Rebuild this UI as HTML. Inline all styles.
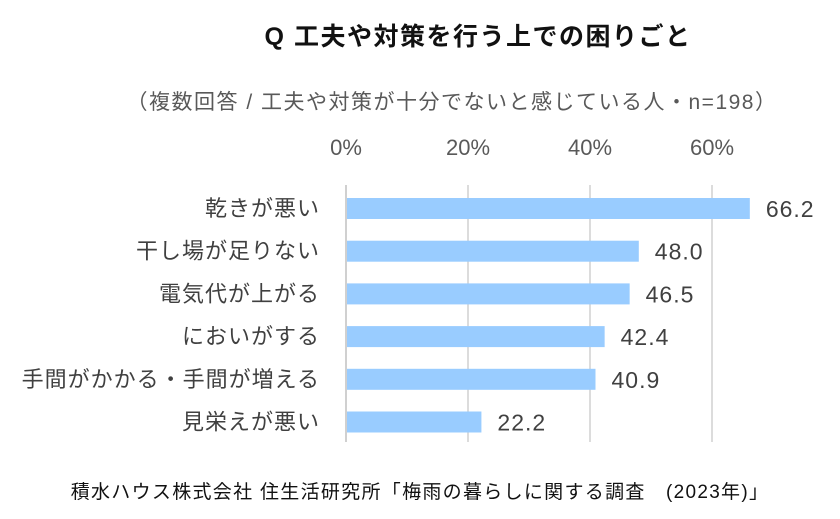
<!DOCTYPE html>
<html><head><meta charset="utf-8"><style>
body{margin:0;background:#fff;width:840px;height:514px;overflow:hidden;font-family:"Liberation Sans","Noto Sans CJK JP",sans-serif}
</style></head><body>
<svg width="840" height="514" style="font-family:'Liberation Sans','Noto Sans CJK JP',sans-serif">
<text x="478" y="45" text-anchor="middle" font-size="25" letter-spacing="1.5" font-weight="bold" fill="#111">Q  工夫や対策を行う上での困りごと</text>
<text x="452" y="109" text-anchor="middle" font-size="21" letter-spacing="1.5" fill="#595959">（複数回答 / 工夫や対策が十分でないと感じている人・n=198）</text>
<g id="grid"></g><g id="ticks"></g><g id="bars"></g>
<text x="420" y="498" text-anchor="middle" font-size="19" letter-spacing="1.3" fill="#111">積水ハウス株式会社 住生活研究所「梅雨の暮らしに関する調査　(2023年)」</text>
</svg>
<script>
const categories=["乾きが悪い","干し場が足りない","電気代が上がる","においがする","手間がかかる・手間が増える","見栄えが悪い"];
const values=[66.2,48.0,46.5,42.4,40.9,22.2];
const tickValues=[0,20,40,60];
const tickLabels=["0%","20%","40%","60%"];
const NS="http://www.w3.org/2000/svg";
const x=v=>346+v*6.1;
const yTop=i=>198+i*42.7;
function mk(t,a,p){const e=document.createElementNS(NS,t);for(const k in a)e.setAttribute(k,a[k]);p.appendChild(e);return e;}
const grid=document.getElementById('grid'),ticks=document.getElementById('ticks'),bars=document.getElementById('bars');
tickValues.forEach((v,i)=>{
 const l=mk('line',{x1:x(v),x2:x(v),y1:185,y2:442,stroke:'#d0d0d0','stroke-width':v===0?2:1.5},grid);
 
 
 const t=mk('text',{x:x(v),y:155,'text-anchor':'middle','font-size':22,fill:'#595959'},ticks);
 t.textContent=tickLabels[i];
 
 
});
categories.forEach((c,i)=>{
 const r=mk('rect',{x:x(0)+1,y:yTop(i),width:x(values[i])-x(0)-1,height:21,fill:'#99ccff'},bars);
 
 
 const l=mk('text',{x:320,y:yTop(i)+18,'text-anchor':'end','font-size':22,'letter-spacing':1,fill:'#404040'},bars);
 l.textContent=c;
 
 
 const v=mk('text',{x:x(values[i])+16,y:yTop(i)+19,'font-size':23,'letter-spacing':1,fill:'#404040'},bars);
 v.textContent=values[i].toFixed(1);
 
 
});
</script>
</body></html>
